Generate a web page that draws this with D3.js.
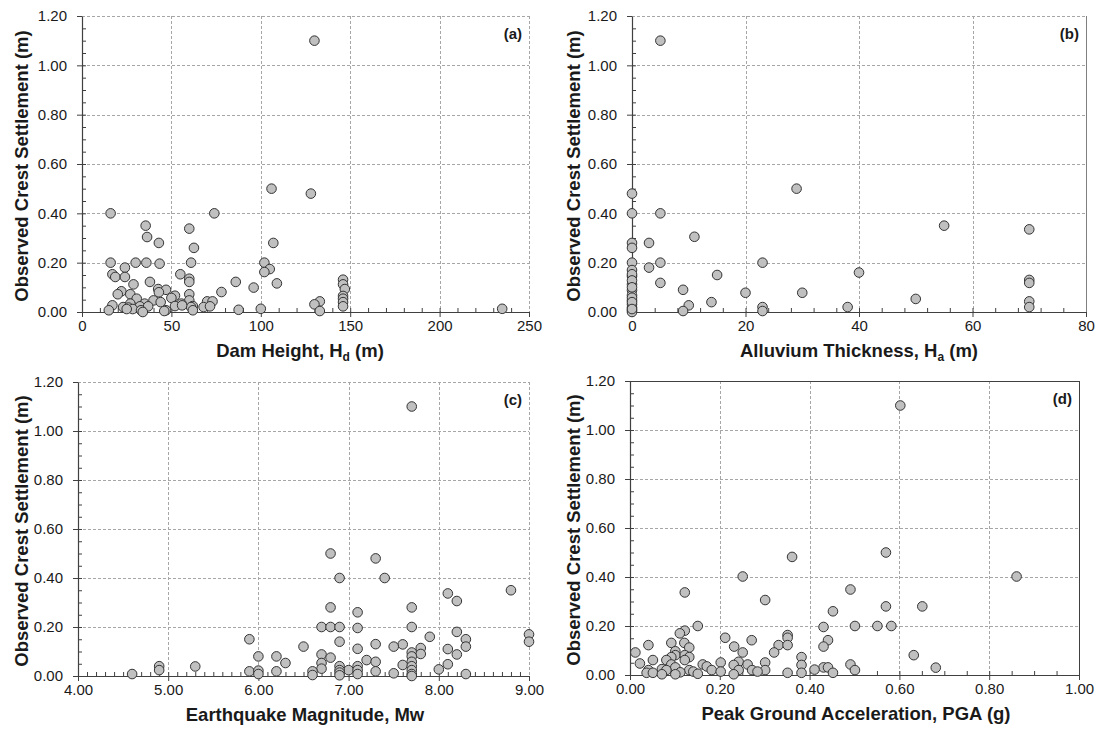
<!DOCTYPE html>
<html><head><meta charset="utf-8">
<script src="https://cdn.jsdelivr.net/npm/d3@7"></script>
<style>body{margin:0;background:#fff} svg{display:block} text{font-family:Arial,'Liberation Sans',sans-serif}</style>
</head><body><svg width="1098" height="729"></svg>
<script>
// ---- data ----
const settlementTicks = [0, 0.2, 0.4, 0.6, 0.8, 1.0, 1.2];

const damHeightTicks = [0, 50, 100, 150, 200, 250];
const damHeight = [130,106,128,16,74,35.6,36.4,43,60,107,62.6,16,30,36,43.4,61,102,24,105,102,17,18.6,24,55,60,60,38,28.8,86,109,96,146,146,147,42.6,47,22,20,43,27,52,78,60,50,146,146,30.6,40,44,60,70,73,133,146,55.6,27,35,130,52,17,146,62,68,71.6,23,26,32.4,37,61,56,28.4,25,33,47,15,87.6,100,133,235,46,34,62];
const damSettle = [1.10,0.50,0.48,0.40,0.40,0.35,0.304,0.28,0.338,0.28,0.26,0.20,0.20,0.20,0.196,0.20,0.20,0.18,0.174,0.162,0.153,0.142,0.142,0.153,0.135,0.122,0.122,0.112,0.122,0.116,0.099,0.131,0.112,0.093,0.093,0.09,0.084,0.072,0.08,0.072,0.066,0.081,0.072,0.057,0.065,0.054,0.054,0.047,0.04,0.047,0.043,0.043,0.043,0.04,0.034,0.034,0.034,0.031,0.024,0.027,0.023,0.024,0.02,0.023,0.02,0.018,0.023,0.023,0.02,0.027,0.012,0.012,0.007,0.007,0.007,0.009,0.013,0.004,0.013,0.004,0.0,0.007];

const alluviumTicks = [0, 20, 40, 60, 80];
const alluvium = [5,29,0,0,5,55,70,11,3,0,0,0,5,23,3,0,15,40,0,70,70,5,0,0,9,20,30,0,50,0,14,70,0,10,23,38,70,0,0,9,23,0,0,0,0,0,0,0];
const alluviumSettle = [1.10,0.50,0.48,0.40,0.40,0.35,0.335,0.305,0.28,0.28,0.26,0.20,0.20,0.20,0.18,0.17,0.15,0.16,0.145,0.13,0.118,0.118,0.112,0.088,0.09,0.078,0.078,0.068,0.053,0.047,0.04,0.043,0.031,0.027,0.02,0.02,0.02,0.018,0.007,0.004,0.004,0.0,0.153,0.128,0.10,0.058,0.04,0.012];

const magnitudeTicks = [4, 5, 6, 7, 8, 9];
const magnitude = [7.7,6.8,7.3,6.9,7.4,8.8,8.1,8.2,6.8,7.7,7.1,6.7,6.8,6.9,7.1,7.7,8.2,9.0,7.9,5.9,8.3,6.9,9.0,7.3,7.6,6.5,7.5,8.3,7.8,7.1,8.1,7.7,6.7,8.2,7.8,6.0,6.2,7.7,6.8,7.2,7.3,6.3,6.7,7.7,8.1,7.6,4.9,5.3,6.9,7.1,7.7,6.7,4.9,7.0,8.0,6.9,7.1,7.7,5.9,6.0,6.2,6.6,7.3,6.9,7.1,7.7,4.6,6.0,7.5,8.3,6.6,6.9,7.7];
const magnitudeSettle = [1.10,0.50,0.48,0.40,0.40,0.35,0.337,0.306,0.28,0.28,0.26,0.20,0.20,0.20,0.196,0.20,0.18,0.17,0.16,0.15,0.15,0.14,0.14,0.13,0.129,0.12,0.12,0.12,0.114,0.111,0.11,0.096,0.088,0.088,0.09,0.08,0.08,0.08,0.075,0.065,0.058,0.053,0.053,0.058,0.048,0.045,0.04,0.039,0.04,0.04,0.04,0.03,0.024,0.024,0.027,0.024,0.024,0.024,0.019,0.022,0.019,0.019,0.019,0.014,0.008,0.008,0.008,0.008,0.011,0.008,0.004,0.003,0.0];

const pgaTicks = [0, 0.2, 0.4, 0.6, 0.8, 1.0];
const pga = [0.602,0.57,0.361,0.251,0.861,0.491,0.122,0.301,0.57,0.651,0.452,0.431,0.501,0.551,0.582,0.151,0.122,0.111,0.212,0.351,0.351,0.441,0.271,0.092,0.121,0.041,0.331,0.351,0.232,0.431,0.132,0.101,0.012,0.251,0.321,0.101,0.122,0.382,0.132,0.092,0.051,0.081,0.122,0.022,0.242,0.202,0.301,0.162,0.262,0.491,0.382,0.231,0.092,0.171,0.101,0.431,0.441,0.681,0.071,0.081,0.242,0.272,0.301,0.182,0.501,0.411,0.132,0.041,0.141,0.284,0.202,0.632,0.037,0.051,0.112,0.351,0.382,0.452,0.151,0.071,0.101,0.231];
const pgaSettle = [1.10,0.50,0.482,0.402,0.402,0.349,0.337,0.306,0.28,0.28,0.26,0.196,0.20,0.20,0.20,0.20,0.181,0.17,0.152,0.163,0.152,0.142,0.142,0.131,0.131,0.122,0.122,0.122,0.116,0.116,0.112,0.097,0.092,0.092,0.092,0.081,0.081,0.073,0.073,0.073,0.061,0.061,0.061,0.047,0.054,0.051,0.051,0.043,0.043,0.043,0.041,0.041,0.043,0.035,0.031,0.031,0.031,0.03,0.024,0.02,0.02,0.02,0.02,0.02,0.02,0.022,0.02,0.02,0.014,0.014,0.014,0.081,0.009,0.009,0.011,0.009,0.009,0.009,0.005,0.003,0.003,0.003];

// ---- drawing ----
const svg = d3.select('svg');
const FONT = "Arial, 'Liberation Sans', sans-serif";

function panel(cfg) {
  const x = d3.scaleLinear().domain([cfg.xTicks[0], cfg.xTicks[cfg.xTicks.length - 1]]).range([cfg.left, cfg.right]);
  const y = d3.scaleLinear().domain([settlementTicks[0], settlementTicks[settlementTicks.length - 1]]).range([cfg.bottom, cfg.top]);
  const g = svg.append('g');

  // gridlines (last ones may be a solid frame)
  const grid = g.append('g').attr('stroke-width', 1);
  const nX = cfg.xTicks.length - 2, nY = settlementTicks.length - 2;
  grid.selectAll('.gx').data(cfg.xTicks.slice(1)).enter().append('line')
    .attr('x1', d => Math.round(x(d)) + 0.5).attr('x2', d => Math.round(x(d)) + 0.5)
    .attr('y1', cfg.top).attr('y2', cfg.bottom)
    .attr('stroke-dasharray', (d, i) => (i === nX && cfg.frameRight) ? 'none' : '3,2')
    .attr('stroke', (d, i) => (i === nX && cfg.frameRight) ? cfg.frameRight : '#a6a6a6');
  grid.selectAll('.gy').data(settlementTicks.slice(1)).enter().append('line')
    .attr('x1', cfg.left).attr('x2', cfg.right)
    .attr('y1', d => Math.round(y(d)) + 0.5).attr('y2', d => Math.round(y(d)) + 0.5)
    .attr('stroke-dasharray', (d, i) => (i === nY && cfg.frameTop) ? 'none' : '3,2')
    .attr('stroke', (d, i) => (i === nY && cfg.frameTop) ? cfg.frameTop : '#a6a6a6');

  // minor ticks (inward)
  const xStep = cfg.xMinor, x0 = cfg.xTicks[0], x1 = cfg.xTicks[cfg.xTicks.length - 1];
  const nx = Math.round((x1 - x0) / xStep);
  const xMinorVals = d3.range(1, nx).map(i => x0 + i * xStep);
  const yMinorVals = d3.range(1, 24).map(i => i * 0.05);
  const axisColor = '#404040';
  const xm = g.append('g').attr('transform', `translate(0,${cfg.bottom})`)
    .call(d3.axisBottom(x).tickValues(xMinorVals).tickSize(-4).tickFormat(''));
  xm.select('.domain').remove(); xm.selectAll('line').attr('stroke', axisColor);
  const ym = g.append('g').attr('transform', `translate(${cfg.left},0)`)
    .call(d3.axisLeft(y).tickValues(yMinorVals).tickSize(-4).tickFormat(''));
  ym.select('.domain').remove(); ym.selectAll('line').attr('stroke', axisColor);

  // major axes
  const xa = g.append('g').attr('transform', `translate(0,${cfg.bottom})`)
    .call(d3.axisBottom(x).tickValues(cfg.xTicks).tickSize(5).tickSizeOuter(0).tickPadding(3).tickFormat(cfg.xFormat));
  xa.select('.domain').attr('stroke', axisColor).attr('stroke-width', 1.2);
  xa.selectAll('line').attr('stroke', axisColor);
  xa.selectAll('text').attr('font-family', FONT).attr('font-size', 15).attr('fill', '#1a1a1a');
  const ya = g.append('g').attr('transform', `translate(${cfg.left},0)`)
    .call(d3.axisLeft(y).tickValues(settlementTicks).tickSize(5).tickSizeOuter(0).tickPadding(10).tickFormat(d3.format('.2f')));
  ya.select('.domain').attr('stroke', axisColor).attr('stroke-width', 1.2);
  ya.selectAll('line').attr('stroke', axisColor);
  ya.selectAll('text').attr('font-family', FONT).attr('font-size', 15).attr('fill', '#1a1a1a');

  // points
  g.append('g').selectAll('circle').data(cfg.xs.map((v, i) => [v, cfg.ys[i]])).enter().append('circle')
    .attr('cx', d => x(d[0])).attr('cy', d => y(d[1])).attr('r', 4.8)
    .attr('fill', '#c0c0c0').attr('stroke', '#333333').attr('stroke-width', 1);

  // axis titles
  const xt = g.append('text').attr('x', cfg.xTitleX).attr('y', cfg.bottom + 45)
    .attr('text-anchor', 'middle').attr('font-family', FONT).attr('font-weight', 'bold').attr('font-size', 18.5).attr('fill', '#1a1a1a');
  xt.append('tspan').text(cfg.xTitle[0]);
  if (cfg.xTitle[1]) {
    xt.append('tspan').attr('font-size', 12).attr('dy', 4).text(cfg.xTitle[1]);
    xt.append('tspan').attr('dy', -4).text(cfg.xTitle[2]);
  }
  g.append('text').attr('transform', `translate(${cfg.yTitleX},${(cfg.top + cfg.bottom) / 2 + 2}) rotate(-90)`)
    .attr('text-anchor', 'middle').attr('dy', '0.35em').attr('font-family', FONT).attr('font-weight', 'bold').attr('font-size', 18.5).attr('fill', '#1a1a1a')
    .text('Observed Crest Settlement (m)');
  g.append('text').attr('x', cfg.right - 7).attr('y', cfg.top + 23).attr('text-anchor', 'end')
    .attr('font-family', FONT).attr('font-weight', 'bold').attr('font-size', 15).attr('fill', '#1a1a1a').text(cfg.label);
}

panel({label: '(a)', xs: damHeight, ys: damSettle, xTicks: damHeightTicks, xMinor: 10, xFormat: d3.format('d'),
  left: 82, right: 529, top: 16, bottom: 312, xTitle: ['Dam Height, H', 'd', ' (m)'], xTitleX: 300, yTitleX: 22});
panel({label: '(b)', xs: alluvium, ys: alluviumSettle, xTicks: alluviumTicks, xMinor: 4, xFormat: d3.format('d'),
  left: 632, right: 1086, top: 16, bottom: 312, xTitle: ['Alluvium Thickness, H', 'a', ' (m)'], xTitleX: 859, yTitleX: 574, frameRight: '#808080'});
panel({label: '(c)', xs: magnitude, ys: magnitudeSettle, xTicks: magnitudeTicks, xMinor: 0.1, xFormat: d3.format('.2f'),
  left: 78, right: 529, top: 382, bottom: 676, xTitle: ['Earthquake Magnitude, Mw'], xTitleX: 305, yTitleX: 22});
panel({label: '(d)', xs: pga, ys: pgaSettle, xTicks: pgaTicks, xMinor: 0.05, xFormat: d3.format('.2f'),
  left: 630, right: 1079, top: 381, bottom: 675, xTitle: ['Peak Ground Acceleration, PGA (g)'], xTitleX: 856, yTitleX: 574, frameRight: '#404040', frameTop: '#404040'});
</script></body></html>
